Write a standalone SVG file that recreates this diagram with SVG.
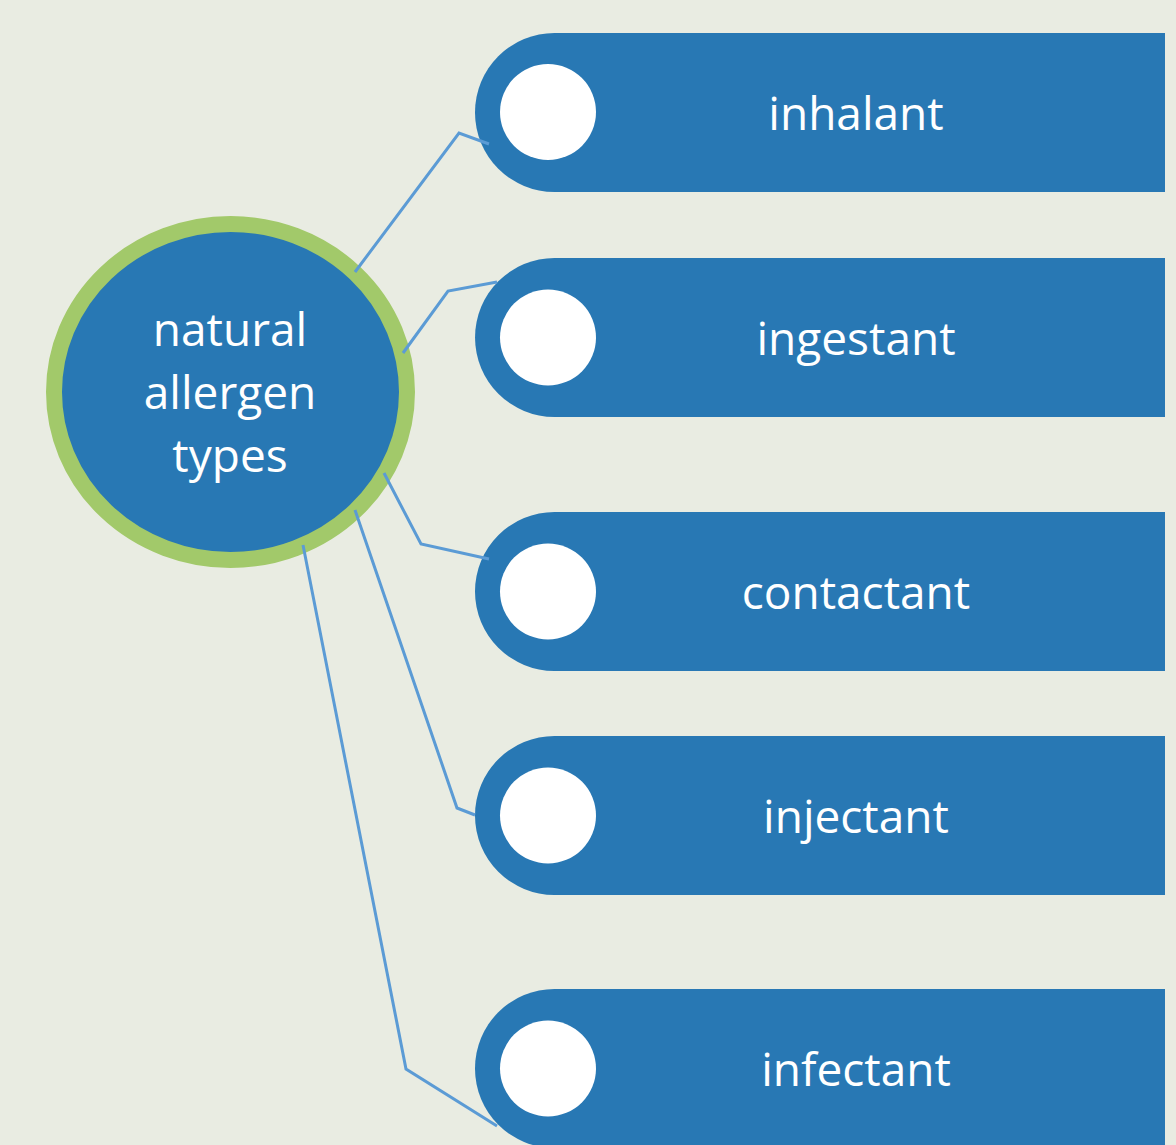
<svg xmlns="http://www.w3.org/2000/svg" width="1176" height="1145" viewBox="0 0 1176 1145">
<style>
.pill{fill:#2878B4}
.dot{fill:#FFFFFF}
.lbl{font-family:"Open Sans","Noto Sans",sans-serif;font-size:46px;fill:#FFFFFF;text-anchor:middle}
.conn{fill:none;stroke:#5B9BD5;stroke-width:3;stroke-linejoin:miter}
</style>
<rect x="0" y="0" width="1176" height="1145" fill="#E9ECE2"/>
<g id="center">
<ellipse cx="230.5" cy="392" rx="176.5" ry="168" fill="#2878B4" stroke="#A2C96A" stroke-width="16"/>
<text class="lbl" x="230" y="346">natural</text>
<text class="lbl" x="230" y="409">allergen</text>
<text class="lbl" x="230" y="472">types</text>
</g>
<g id="inhalant">
<path class="pill" d="M554.5,33 H1165 V192 H554.5 A79.5,79.5 0 0 1 554.5,33 Z"/>
<circle class="dot" cx="548" cy="112" r="48"/>
<text class="lbl" x="856" y="130">inhalant</text>
</g>
<g id="ingestant">
<path class="pill" d="M554.5,258 H1165 V417 H554.5 A79.5,79.5 0 0 1 554.5,258 Z"/>
<circle class="dot" cx="548" cy="337.5" r="48"/>
<text class="lbl" x="856" y="355">ingestant</text>
</g>
<g id="contactant">
<path class="pill" d="M554.5,512 H1165 V671 H554.5 A79.5,79.5 0 0 1 554.5,512 Z"/>
<circle class="dot" cx="548" cy="591.5" r="48"/>
<text class="lbl" x="856" y="609">contactant</text>
</g>
<g id="injectant">
<path class="pill" d="M554.5,736 H1165 V895 H554.5 A79.5,79.5 0 0 1 554.5,736 Z"/>
<circle class="dot" cx="548" cy="815.5" r="48"/>
<text class="lbl" x="856" y="833">injectant</text>
</g>
<g id="infectant">
<path class="pill" d="M554.5,989 H1165 V1148 H554.5 A79.5,79.5 0 0 1 554.5,989 Z"/>
<circle class="dot" cx="548" cy="1068.5" r="48"/>
<text class="lbl" x="856" y="1086">infectant</text>
</g>
<g id="connectors">
<polyline class="conn" points="355,272 459,133 489,144"/>
<polyline class="conn" points="403,353 448,291 497,282"/>
<polyline class="conn" points="384,473 421,544 489,559"/>
<polyline class="conn" points="355,510 457,808 475,815"/>
<polyline class="conn" points="303,545 406,1069 497,1126"/>
</g>
</svg>
